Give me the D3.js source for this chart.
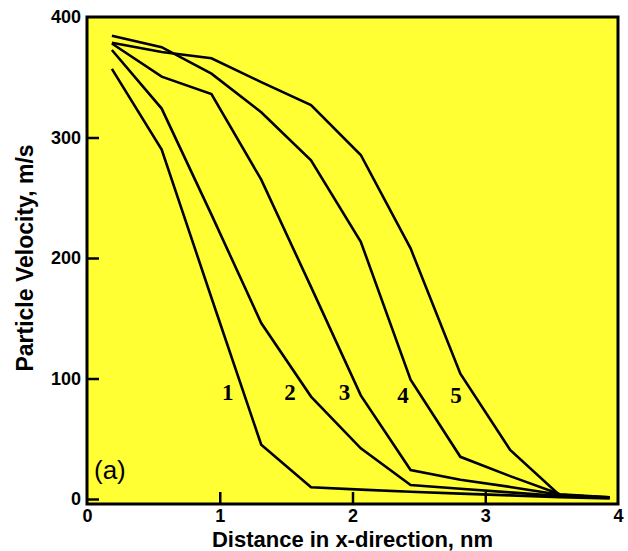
<!DOCTYPE html>
<html>
<head>
<meta charset="utf-8">
<script src="https://cdn.jsdelivr.net/npm/d3@7/dist/d3.min.js"></script>
<style>
  html, body { margin: 0; padding: 0; background: #ffffff; }
  svg { display: block; }
</style>
</head>
<body>
<script>
// ---- Data ----
const xValues = [0.1875, 0.5625, 0.9375, 1.3125, 1.6875, 2.0625, 2.4375, 2.8125, 3.1875, 3.5625, 3.9375];
const curve1 = [357, 290, 167, 45, 9.7, 7.8, 6, 4.5, 3, 1.5, 0.5];
const curve2 = [372.6, 324, 236, 146, 85, 42, 11.6, 8.5, 5.5, 2.5, 1];
const curve3 = [378, 350.5, 336, 265, 176, 86, 24, 16, 10, 3.5, 1];
const curve4 = [384.5, 375, 353, 321, 281, 213.5, 99, 35, 19, 4, 1.5];
const curve5 = [378.7, 371, 365.7, 346, 327, 285.5, 208, 104, 40.7, 3, 1.5];
const curveNames = ["1", "2", "3", "4", "5"];
// label anchor positions (data units) for the curve numbers
const labelX = [1.06, 1.53, 1.94, 2.38, 2.78];
const labelY = [82, 82, 82, 80, 80];
const xTicks = [0, 1, 2, 3, 4];
const yTicks = [0, 100, 200, 300, 400];
const xTitle = "Distance in x-direction, nm";
const yTitle = "Particle Velocity, m/s";
const panelTag = "(a)";

const W = 628, H = 551;
const svg = d3.select("body").append("svg").attr("width", W).attr("height", H);

const x = d3.scaleLinear().domain([0, 4]).range([87, 618]);
const y = d3.scaleLinear().domain([0, 400]).range([499, 17]);
const frameBottom = y(0) + 5;

// plot background
svg.append("rect")
  .attr("x", x(0)).attr("y", y(400))
  .attr("width", x(4) - x(0)).attr("height", frameBottom - y(400))
  .attr("fill", "#ffff33");

// curves
const series = [curve1, curve2, curve3, curve4, curve5];
const line = d3.line().x(d => x(d[0])).y(d => y(d[1]));
svg.append("g").selectAll("path").data(series).join("path")
  .attr("d", s => line(s.map((v, i) => [xValues[i], v])))
  .attr("fill", "none").attr("stroke", "#000").attr("stroke-width", 2.6)
  .attr("stroke-linejoin", "miter");

// curve number labels
svg.append("g").selectAll("text").data(curveNames).join("text")
  .attr("x", (d, i) => x(labelX[i])).attr("y", (d, i) => y(labelY[i]))
  .attr("text-anchor", "middle")
  .attr("font-family", "Liberation Serif, Times New Roman, serif")
  .attr("font-weight", "bold").attr("font-size", 23)
  .text(d => d);

// axes
const yAxis = d3.axisLeft(y).tickValues(yTicks).tickSize(-12).tickPadding(6).tickFormat(d3.format("d"));
const gy = svg.append("g").attr("transform", `translate(${x(0)},0)`).call(yAxis);
const xAxis = d3.axisBottom(x).tickValues(xTicks).tickSize(-12).tickPadding(5).tickFormat(d3.format("d"));
const gx = svg.append("g").attr("transform", `translate(0,${frameBottom})`).call(xAxis);
[gy, gx].forEach(g => {
  g.select(".domain").remove();
  g.selectAll(".tick line").attr("stroke", "#000").attr("stroke-width", 2.5);
  g.selectAll(".tick text").attr("fill", "#000")
    .attr("font-family", "Liberation Sans, Arial, sans-serif")
    .attr("font-weight", "bold").attr("font-size", 18);
});
gy.selectAll(".tick").filter(d => d === 400).select("line").remove();
gx.selectAll(".tick").filter(d => d === 0 || d === 4).select("line").remove();

// frame
svg.append("rect")
  .attr("x", x(0)).attr("y", y(400))
  .attr("width", x(4) - x(0)).attr("height", frameBottom - y(400))
  .attr("fill", "none").attr("stroke", "#000").attr("stroke-width", 3);

// panel tag
svg.append("text").attr("x", 94).attr("y", 479)
  .attr("font-family", "Liberation Sans, Arial, sans-serif")
  .attr("font-size", 26).text(panelTag);

// axis titles
svg.append("text").attr("x", (x(0) + x(4)) / 2).attr("y", 547)
  .attr("text-anchor", "middle")
  .attr("font-family", "Liberation Sans, Arial, sans-serif")
  .attr("font-weight", "bold").attr("font-size", 22).text(xTitle);
svg.append("text")
  .attr("transform", `translate(33,${(y(0) + y(400)) / 2}) rotate(-90)`)
  .attr("text-anchor", "middle")
  .attr("font-family", "Liberation Sans, Arial, sans-serif")
  .attr("font-weight", "bold").attr("font-size", 23).text(yTitle);
</script>
</body>
</html>
